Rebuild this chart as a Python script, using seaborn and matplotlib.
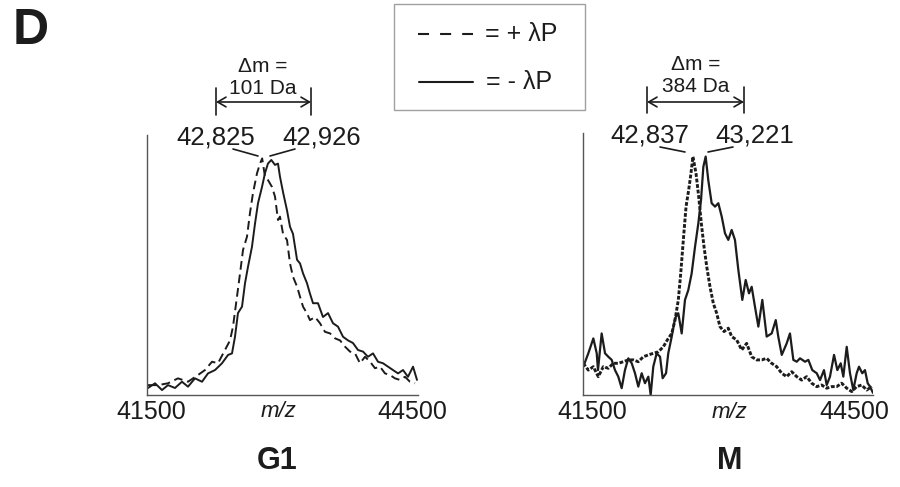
import numpy as np
import pandas as pd
import matplotlib
matplotlib.use("Agg")
import matplotlib.pyplot as plt
from matplotlib.lines import Line2D
from matplotlib.patches import Rectangle, FancyArrowPatch
import seaborn as sns

sns.set_theme(style="white")
plt.rcParams["font.family"] = ["Liberation Sans", "DejaVu Sans"]

# ---------------- G1 spectra (m/z, relative intensity) ----------------
g1_plus_mz = [41561, 41672, 41782, 41893, 42004, 42115, 42192, 42270, 42336, 42413,
              42469, 42502, 42546, 42580, 42613, 42657, 42690, 42723, 42768, 42801,
              42825, 42856, 42889, 42934, 42967, 43000, 43022, 43056, 43100, 43133,
              43166, 43211, 43244, 43277, 43321, 43354, 43410, 43465, 43520, 43576,
              43631, 43687, 43742, 43797, 43853, 43908, 43963, 44019, 44074, 44129,
              44185, 44240, 44295, 44351, 44406, 44461, 44517]
g1_plus_int = [0.038, 0.038, 0.045, 0.064, 0.051, 0.077, 0.096, 0.128, 0.122, 0.173,
               0.210, 0.263, 0.378, 0.468, 0.558, 0.609, 0.700, 0.776, 0.853, 0.890,
               0.910, 0.840, 0.827, 0.800, 0.763, 0.673, 0.686, 0.620, 0.596, 0.506,
               0.455, 0.417, 0.378, 0.340, 0.314, 0.288, 0.300, 0.276, 0.243, 0.237,
               0.218, 0.210, 0.186, 0.167, 0.160, 0.122, 0.147, 0.128, 0.103, 0.109,
               0.083, 0.077, 0.064, 0.058, 0.070, 0.051, 0.045]

g1_minus_mz = [41561, 41639, 41716, 41782, 41860, 41937, 42004, 42081, 42159, 42225,
               42303, 42380, 42447, 42491, 42524, 42557, 42602, 42635, 42668, 42712,
               42746, 42779, 42823, 42856, 42889, 42926, 42967, 43000, 43022, 43056,
               43100, 43133, 43166, 43211, 43244, 43277, 43321, 43354, 43388, 43443,
               43498, 43554, 43609, 43664, 43720, 43775, 43830, 43886, 43941, 43996,
               44052, 44107, 44163, 44218, 44273, 44329, 44384, 44439, 44495, 44539]
g1_minus_int = [0.027, 0.045, 0.019, 0.038, 0.027, 0.051, 0.032, 0.064, 0.051, 0.083,
                0.096, 0.122, 0.154, 0.160, 0.224, 0.315, 0.340, 0.430, 0.493, 0.570,
                0.660, 0.738, 0.800, 0.853, 0.890, 0.904, 0.885, 0.890, 0.840, 0.780,
                0.710, 0.647, 0.620, 0.520, 0.506, 0.468, 0.430, 0.390, 0.353, 0.353,
                0.300, 0.315, 0.276, 0.263, 0.224, 0.210, 0.200, 0.173, 0.167, 0.147,
                0.160, 0.128, 0.122, 0.109, 0.096, 0.083, 0.096, 0.070, 0.109, 0.058]

# ---------------- M spectra ----------------
m_plus_mz = [41703, 41755, 41807, 41858, 41910, 41962, 42013, 42065, 42117, 42169,
             42220, 42272, 42324, 42376, 42427, 42479, 42531, 42572, 42618, 42652,
             42686, 42711, 42738, 42766, 42793, 42817, 42837, 42869, 42897, 42924,
             42952, 42980, 43014, 43048, 43083, 43117, 43159, 43203, 43238, 43290,
             43342, 43393, 43445, 43497, 43549, 43600, 43652, 43704, 43756, 43807,
             43859, 43911, 43962, 44014, 44066, 44118, 44169, 44221, 44273, 44324,
             44376, 44428, 44480, 44531, 44583, 44635, 44687]
m_plus_int = [0.121, 0.095, 0.108, 0.070, 0.108, 0.102, 0.121, 0.121, 0.127, 0.134,
              0.134, 0.127, 0.146, 0.153, 0.159, 0.165, 0.184, 0.210, 0.235, 0.286,
              0.363, 0.464, 0.592, 0.719, 0.782, 0.846, 0.910, 0.846, 0.757, 0.655,
              0.566, 0.490, 0.413, 0.350, 0.312, 0.261, 0.242, 0.255, 0.223, 0.210,
              0.172, 0.197, 0.146, 0.134, 0.134, 0.140, 0.121, 0.108, 0.083, 0.070,
              0.089, 0.070, 0.057, 0.070, 0.045, 0.032, 0.038, 0.026, 0.032, 0.032,
              0.045, 0.026, 0.013, 0.032, 0.038, 0.019, 0.032]

m_minus_mz = [41703, 41755, 41807, 41842, 41855, 41893, 41928, 41962, 41997, 42031,
              42065, 42100, 42134, 42169, 42204, 42238, 42272, 42307, 42341, 42376,
              42400, 42427, 42462, 42497, 42524, 42559, 42582, 42618, 42652, 42686,
              42721, 42755, 42789, 42824, 42859, 42893, 42921, 42945, 42969, 42996,
              43031, 43066, 43100, 43135, 43169, 43203, 43238, 43272, 43307, 43348,
              43383, 43417, 43445, 43479, 43514, 43555, 43600, 43652, 43694, 43720,
              43756, 43807, 43841, 43876, 43911, 43945, 43997, 44031, 44072, 44118,
              44152, 44193, 44221, 44255, 44297, 44331, 44366, 44393, 44428, 44462,
              44496, 44531, 44555, 44589, 44617, 44645, 44669, 44700]
m_minus_int = [0.108, 0.159, 0.216, 0.159, 0.095, 0.235, 0.159, 0.146, 0.134, 0.095,
               0.070, 0.026, 0.095, 0.140, 0.121, 0.083, 0.032, 0.083, 0.045, 0.070,
               0.000, 0.108, 0.159, 0.146, 0.064, 0.083, 0.159, 0.223, 0.293, 0.312,
               0.235, 0.363, 0.400, 0.464, 0.566, 0.655, 0.744, 0.871, 0.910, 0.820,
               0.732, 0.719, 0.732, 0.681, 0.617, 0.592, 0.630, 0.592, 0.477, 0.363,
               0.439, 0.388, 0.413, 0.337, 0.261, 0.363, 0.223, 0.235, 0.286, 0.223,
               0.153, 0.197, 0.235, 0.134, 0.127, 0.140, 0.127, 0.134, 0.095, 0.083,
               0.057, 0.095, 0.038, 0.070, 0.153, 0.095, 0.121, 0.070, 0.184, 0.083,
               0.019, 0.083, 0.108, 0.083, 0.095, 0.045, 0.032, 0.008]

axis_labels = ["41500", "44500"]
panel_names = ["G1", "M"]
peak_labels_g1 = ["42,825", "42,926"]
peak_labels_m = ["42,837", "43,221"]
delta_labels = ["101 Da", "384 Da"]
legend_labels = ["= + \u03bbP", "= - \u03bbP"]

INK = "#1c1c1c"
AXIS = "#555555"
W, H = 900, 487

fig = plt.figure(figsize=(W / 100, H / 100), dpi=100)
fig.patch.set_facecolor("white")


def fx(px):
    return px / W


def fy(py):
    return 1 - py / H


ax_g1 = fig.add_axes([fx(147), fy(395), (418 - 147) / W, (395 - 135) / H])
ax_m = fig.add_axes([fx(583), fy(395), (873 - 583) / W, (395 - 133) / H])

g1 = pd.concat([
    pd.DataFrame({"mz": g1_plus_mz, "intensity": g1_plus_int, "treatment": "+"}),
    pd.DataFrame({"mz": g1_minus_mz, "intensity": g1_minus_int, "treatment": "-"}),
])
sns.lineplot(data=g1, x="mz", y="intensity", style="treatment",
             dashes={"+": (4.5, 2.5), "-": ""}, color=INK, linewidth=1.4,
             estimator=None, legend=False, ax=ax_g1)

sns.lineplot(x=m_minus_mz, y=m_minus_int, color=INK, linewidth=1.6,
             estimator=None, ax=ax_m)
sns.lineplot(x=m_plus_mz, y=m_plus_int, color=INK, linewidth=2.1,
             linestyle=(0, (1.3, 0.6)), estimator=None, ax=ax_m)

ax_g1.set_xlim(41550, 44550)
ax_m.set_xlim(41700, 44700)
for ax in (ax_g1, ax_m):
    ax.set_ylim(0, 1)
    ax.set_xlabel("")
    ax.set_ylabel("")
    ax.set_facecolor("white")
    for side in ("top", "right"):
        ax.spines[side].set_visible(False)
    for side in ("left", "bottom"):
        ax.spines[side].set_color(AXIS)
        ax.spines[side].set_linewidth(1.0)
    ax.set_xticklabels([])
    ax.set_yticklabels([])

# G1 axis ticks
ax_g1.set_xticks([41550 + 11.07 * k for k in (42, 84, 125, 166, 207, 248)])
ax_g1.set_yticks([0.175, 0.360, 0.546, 0.731, 0.915])
ax_g1.tick_params(axis="x", direction="in", length=3, width=0.8, color="#888888")
ax_g1.tick_params(axis="y", direction="out", length=2, width=0.8, color="#888888")

# M axis ticks (major plus fine dotted minor ticks)
ax_m.set_xticks([41700 + 10.345 * k for k in (39, 77, 115, 154, 193, 231, 270)])
ax_m.set_xticks(np.arange(41700, 44700, 3.0 * 10.345), minor=True)
ax_m.set_yticks([0.122, 0.248, 0.374, 0.504, 0.630, 0.756, 0.885])
ax_m.set_yticks(np.arange(0, 1, 3.0 / 262), minor=True)
ax_m.tick_params(axis="both", which="major", direction="out", length=3, width=0.8, color="#888888")
ax_m.tick_params(axis="both", which="minor", direction="out", length=1.5, width=0.6, color="#aaaaaa")

# axis end labels and m/z captions
for ax, (l, r), mzx in ((ax_g1, (0.015, 0.978), 0.485), (ax_m, (0.033, 0.934), 0.505)):
    ax.text(l, -0.065, axis_labels[0], transform=ax.transAxes, ha="center", va="center",
            fontsize=18, color=INK)
    ax.text(r, -0.065, axis_labels[1], transform=ax.transAxes, ha="center", va="center",
            fontsize=18, color=INK)
    ax.text(mzx, -0.065, "m/z", transform=ax.transAxes, ha="center", va="center",
            fontsize=16, style="italic", color=INK)

# panel names
fig.text(fx(277), fy(461), panel_names[0], ha="center", va="center",
         fontsize=22, fontweight="bold", color=INK)
fig.text(fx(729.5), fy(461), panel_names[1], ha="center", va="center",
         fontsize=22, fontweight="bold", color=INK)
fig.text(fx(31), fy(31), "D", ha="center", va="center",
         fontsize=36, fontweight="bold", color=INK)


def fig_line(x0, y0, x1, y1, lw=1.2, **kw):
    fig.add_artist(Line2D([fx(x0), fx(x1)], [fy(y0), fy(y1)], color=INK, lw=lw,
                          transform=fig.transFigure, **kw))


def mass_shift(xl, xr, ytop, ybot, yarr, tx, ty1, ty2, label):
    fig_line(xl, ytop, xl, ybot, lw=1.2)
    fig_line(xr, ytop, xr, ybot, lw=1.2)
    fig.add_artist(FancyArrowPatch((fx(xl), fy(yarr)), (fx(xr), fy(yarr)),
                                   arrowstyle="<->,head_length=6,head_width=3.5",
                                   color=INK, lw=1.2, transform=fig.transFigure,
                                   shrinkA=0, shrinkB=0))
    fig.text(fx(tx), fy(ty1), "\u0394m =", ha="center", va="center", fontsize=15, color=INK)
    fig.text(fx(tx), fy(ty2), label, ha="center", va="center", fontsize=15, color=INK)


mass_shift(216, 311, 88, 115, 102, 263, 66, 89, delta_labels[0])
mass_shift(647, 744, 87, 113, 102, 696, 64, 86, delta_labels[1])

# peak labels with leader lines
fig.text(fx(216), fy(138), peak_labels_g1[0], ha="center", va="center", fontsize=18.5, color=INK)
fig.text(fx(322), fy(138), peak_labels_g1[1], ha="center", va="center", fontsize=18.5, color=INK)
fig_line(233, 149, 258, 156)
fig_line(270, 156, 295, 149)
fig.text(fx(649.5), fy(135), peak_labels_m[0], ha="center", va="center", fontsize=18.5, color=INK)
fig.text(fx(755), fy(135), peak_labels_m[1], ha="center", va="center", fontsize=18.5, color=INK)
fig_line(660, 147, 685, 152)
fig_line(708, 152, 733, 147)

# legend box
fig.add_artist(Rectangle((fx(394), fy(110)), (585 - 394) / W, (110 - 4) / H,
                         transform=fig.transFigure, facecolor="white",
                         edgecolor="#a0a0a0", lw=1.0))
fig_line(418, 34, 473, 34, lw=1.5, dashes=(5.3, 5.3))
fig_line(419, 82, 473, 82, lw=1.5)
fig.text(fx(485), fy(34), legend_labels[0], ha="left", va="center", fontsize=18, color=INK)
fig.text(fx(486), fy(82), legend_labels[1], ha="left", va="center", fontsize=18, color=INK)

fig.savefig("out.png", dpi=100, facecolor="white")
